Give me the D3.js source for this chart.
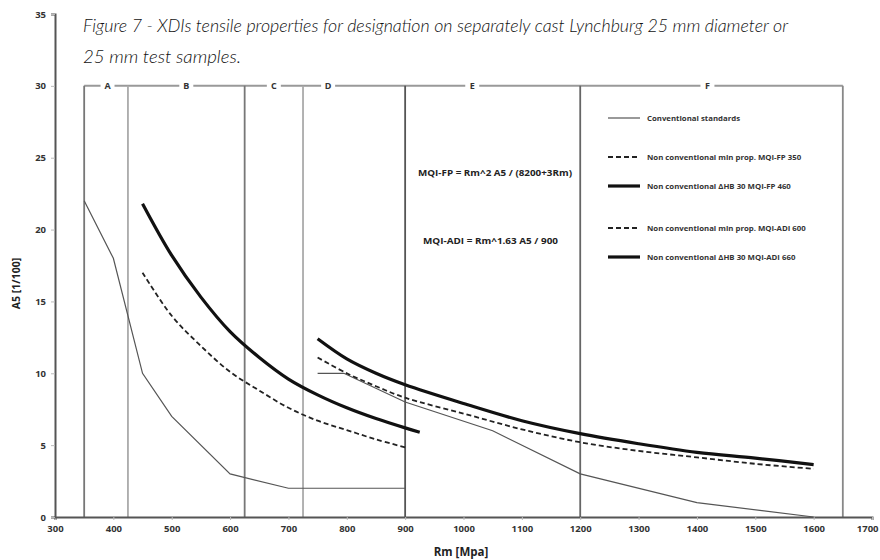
<!DOCTYPE html>
<html>
<head>
<meta charset="utf-8">
<script src="https://cdn.jsdelivr.net/npm/d3@7"></script>
<style>
  body { margin: 0; background: #fff; }
  svg { display: block; }
</style>
</head>
<body>
<div class="chart"></div>
<script>
const width = 880;
const height = 560;

// region boundaries and labels (Rm values)
const zoneBounds = [350, 425, 625, 725, 900, 1200, 1650];
const zoneColors = ['#777', '#aaa', '#777', '#aaa', '#555', '#666', '#888'];
const zoneLabels = ['A', 'B', 'C', 'D', 'E', 'F'];
const zoneLabelAt = [390, 525, 675, 768, 1015, 1418];

const xTicks = [300, 400, 500, 600, 700, 800, 900, 1000, 1100, 1200, 1300, 1400, 1500, 1600, 1700];
const yTicks = [0, 5, 10, 15, 20, 25, 30, 35];

// conventional standards (two pieces)
const convA = [[350, 22], [400, 18], [450, 10], [500, 7], [600, 3], [700, 2], [900, 2]];
const convB = [[750, 10], [795, 10], [900, 8], [1050, 6], [1200, 3], [1400, 1], [1600, 0]];

// non conventional min prop. MQI-FP 350
const fp350 = [[450, 17.0], [500, 14.0], [550, 11.9], [600, 10.1], [650, 8.8], [700, 7.6],
    [750, 6.7], [800, 6.05], [850, 5.4], [900, 4.85]];
// non conventional dHB 30 MQI-FP 460
const fp460 = [[450, 21.8], [500, 18.2], [550, 15.3], [600, 12.9], [650, 11.1], [700, 9.6],
    [750, 8.5], [800, 7.6], [850, 6.85], [900, 6.2], [925, 5.9]];
// non conventional min prop. MQI-ADI 600
const adi600 = [[750, 11.1], [800, 10.0], [850, 9.1], [900, 8.3], [1000, 7.2], [1100, 6.1],
    [1200, 5.2], [1300, 4.6], [1400, 4.15], [1500, 3.7], [1600, 3.35]];
// non conventional dHB 30 MQI-ADI 660
const adi660 = [[750, 12.4], [800, 11.0], [850, 10.0], [900, 9.2], [1000, 7.9], [1100, 6.7],
    [1200, 5.8], [1300, 5.1], [1400, 4.5], [1500, 4.1], [1600, 3.65]];

const legendItems = [
    { text: 'Conventional standards', style: 'conv' },
    { text: 'Non conventional min prop. MQI-FP 350', style: 'dash' },
    { text: 'Non conventional \u0394HB 30 MQI-FP 460', style: 'thick' },
    { text: 'Non conventional min prop. MQI-ADI 600', style: 'dash' },
    { text: 'Non conventional \u0394HB 30 MQI-ADI 660', style: 'thick' }
];
const legendY = [118, 157, 186, 228, 257];

const styles = {
    conv: { stroke: '#555', width: 1.2, dash: null },
    dash: { stroke: '#222', width: 1.8, dash: '5,3' },
    thick: { stroke: '#111', width: 3.2, dash: null }
};

const svg = d3.select('.chart')
    .append('svg')
    .attr('width', width)
    .attr('height', height);

svg.append('rect').attr('width', width).attr('height', height).attr('fill', '#fff');

const x = d3.scaleLinear().domain([300, 1700]).range([55, 872]);
const y = d3.scaleLinear().domain([0, 35]).range([517, 14]);

// title
const title = svg.append('g')
    .attr('font-family', 'Lato, "Open Sans", sans-serif')
    .attr('font-style', 'italic')
    .attr('font-weight', 300)
    .attr('font-size', 18)
    .attr('fill', '#111');
title.append('text')
    .attr('x', 83).attr('y', 32)
    .attr('textLength', 705)
    .attr('lengthAdjust', 'spacingAndGlyphs')
    .text('Figure 7  - XDIs tensile properties for designation on separately cast Lynchburg 25 mm diameter or');
title.append('text')
    .attr('x', 83).attr('y', 63)
    .attr('textLength', 158)
    .attr('lengthAdjust', 'spacingAndGlyphs')
    .text('25 mm test samples.');

// zones
const topY = y(30);
svg.append('line')
    .attr('x1', x(zoneBounds[0])).attr('x2', x(zoneBounds[zoneBounds.length - 1]))
    .attr('y1', topY).attr('y2', topY)
    .attr('stroke', '#999').attr('stroke-width', 2);

svg.selectAll('.zone')
    .data(zoneBounds)
    .enter()
    .append('line')
    .attr('class', 'zone')
    .attr('x1', d => x(d)).attr('x2', d => x(d))
    .attr('y1', topY).attr('y2', y(0))
    .attr('stroke', (d, i) => zoneColors[i])
    .attr('stroke-width', 1.8);

const zl = svg.selectAll('.zlabel')
    .data(zoneLabels)
    .enter()
    .append('g')
    .attr('class', 'zlabel')
    .attr('transform', (d, i) => `translate(${x(zoneLabelAt[i])},${topY})`);
zl.append('rect')
    .attr('x', -7).attr('y', -5).attr('width', 14).attr('height', 10)
    .attr('fill', '#fff');
zl.append('text')
    .attr('text-anchor', 'middle')
    .attr('dy', '0.35em')
    .attr('font-family', '"Open Sans", sans-serif')
    .attr('font-weight', 'bold')
    .attr('font-size', 9)
    .attr('fill', '#333')
    .text(d => d);

// axes
const xAxis = svg.append('g')
    .attr('transform', `translate(0,${y(0)})`)
    .call(d3.axisBottom(x).tickValues(xTicks).tickSize(3).tickPadding(5).tickFormat(d3.format('d')));
const yAxis = svg.append('g')
    .attr('transform', `translate(${x(300)},0)`)
    .call(d3.axisLeft(y).tickValues(yTicks).tickSize(4).tickPadding(5));

[xAxis, yAxis].forEach(a => {
    a.select('.domain').attr('stroke', '#555').attr('stroke-width', 2);
    a.selectAll('.tick line').attr('stroke', '#bbb');
    a.selectAll('.tick text')
        .attr('font-family', '"Open Sans", sans-serif')
        .attr('font-weight', 'bold')
        .attr('font-size', 9.5)
        .attr('fill', '#333');
});
// keep the last x label inside the page
xAxis.selectAll('.tick text').filter(d => d === 1700).attr('text-anchor', 'end').attr('x', 6);

svg.append('text')
    .attr('transform', `translate(20,${y(17.5) + 18}) rotate(-90)`)
    .attr('text-anchor', 'middle')
    .attr('font-family', '"Open Sans", sans-serif')
    .attr('font-weight', 'bold')
    .attr('font-size', 10.5)
    .attr('fill', '#222')
    .text('A5 [1/100]');

svg.append('text')
    .attr('x', 461).attr('y', 556)
    .attr('text-anchor', 'middle')
    .attr('font-family', '"Open Sans", sans-serif')
    .attr('font-weight', 'bold')
    .attr('font-size', 11.5)
    .attr('fill', '#222')
    .text('Rm [Mpa]');

// formulas
const formulas = svg.append('g')
    .attr('font-family', '"Open Sans", sans-serif')
    .attr('font-weight', 'bold')
    .attr('font-size', 8.5)
    .attr('fill', '#222');
formulas.append('text').attr('x', 418).attr('y', 176)
    .attr('textLength', 154).attr('lengthAdjust', 'spacingAndGlyphs')
    .text('MQI-FP = Rm^2 A5 / (8200+3Rm)');
formulas.append('text').attr('x', 423).attr('y', 244)
    .attr('textLength', 135).attr('lengthAdjust', 'spacingAndGlyphs')
    .text('MQI-ADI = Rm^1.63 A5 / 900');

// series
const line = d3.line()
    .x(d => x(d[0]))
    .y(d => y(d[1]));
const smooth = d3.line()
    .curve(d3.curveCatmullRom)
    .x(d => x(d[0]))
    .y(d => y(d[1]));

const series = [
    { data: convA, style: 'conv', gen: line },
    { data: convB, style: 'conv', gen: line },
    { data: fp350, style: 'dash', gen: smooth },
    { data: fp460, style: 'thick', gen: smooth },
    { data: adi600, style: 'dash', gen: smooth },
    { data: adi660, style: 'thick', gen: smooth }
];

svg.selectAll('.series')
    .data(series)
    .enter()
    .append('path')
    .attr('class', 'series')
    .attr('d', d => d.gen(d.data))
    .attr('fill', 'none')
    .attr('stroke', d => styles[d.style].stroke)
    .attr('stroke-width', d => styles[d.style].width)
    .attr('stroke-dasharray', d => styles[d.style].dash);

// legend
const legend = svg.selectAll('.legend')
    .data(legendItems)
    .enter()
    .append('g')
    .attr('class', 'legend')
    .attr('transform', (d, i) => `translate(608,${legendY[i]})`);
legend.append('line')
    .attr('x1', 0).attr('x2', 32)
    .attr('stroke', d => styles[d.style].stroke)
    .attr('stroke-width', d => styles[d.style].width)
    .attr('stroke-dasharray', d => styles[d.style].dash);
legend.append('text')
    .attr('x', 39)
    .attr('dy', '0.35em')
    .attr('font-family', '"Open Sans", sans-serif')
    .attr('font-weight', 'bold')
    .attr('font-size', 7.8)
    .attr('fill', '#333')
    .text(d => d.text);
</script>
</body>
</html>
